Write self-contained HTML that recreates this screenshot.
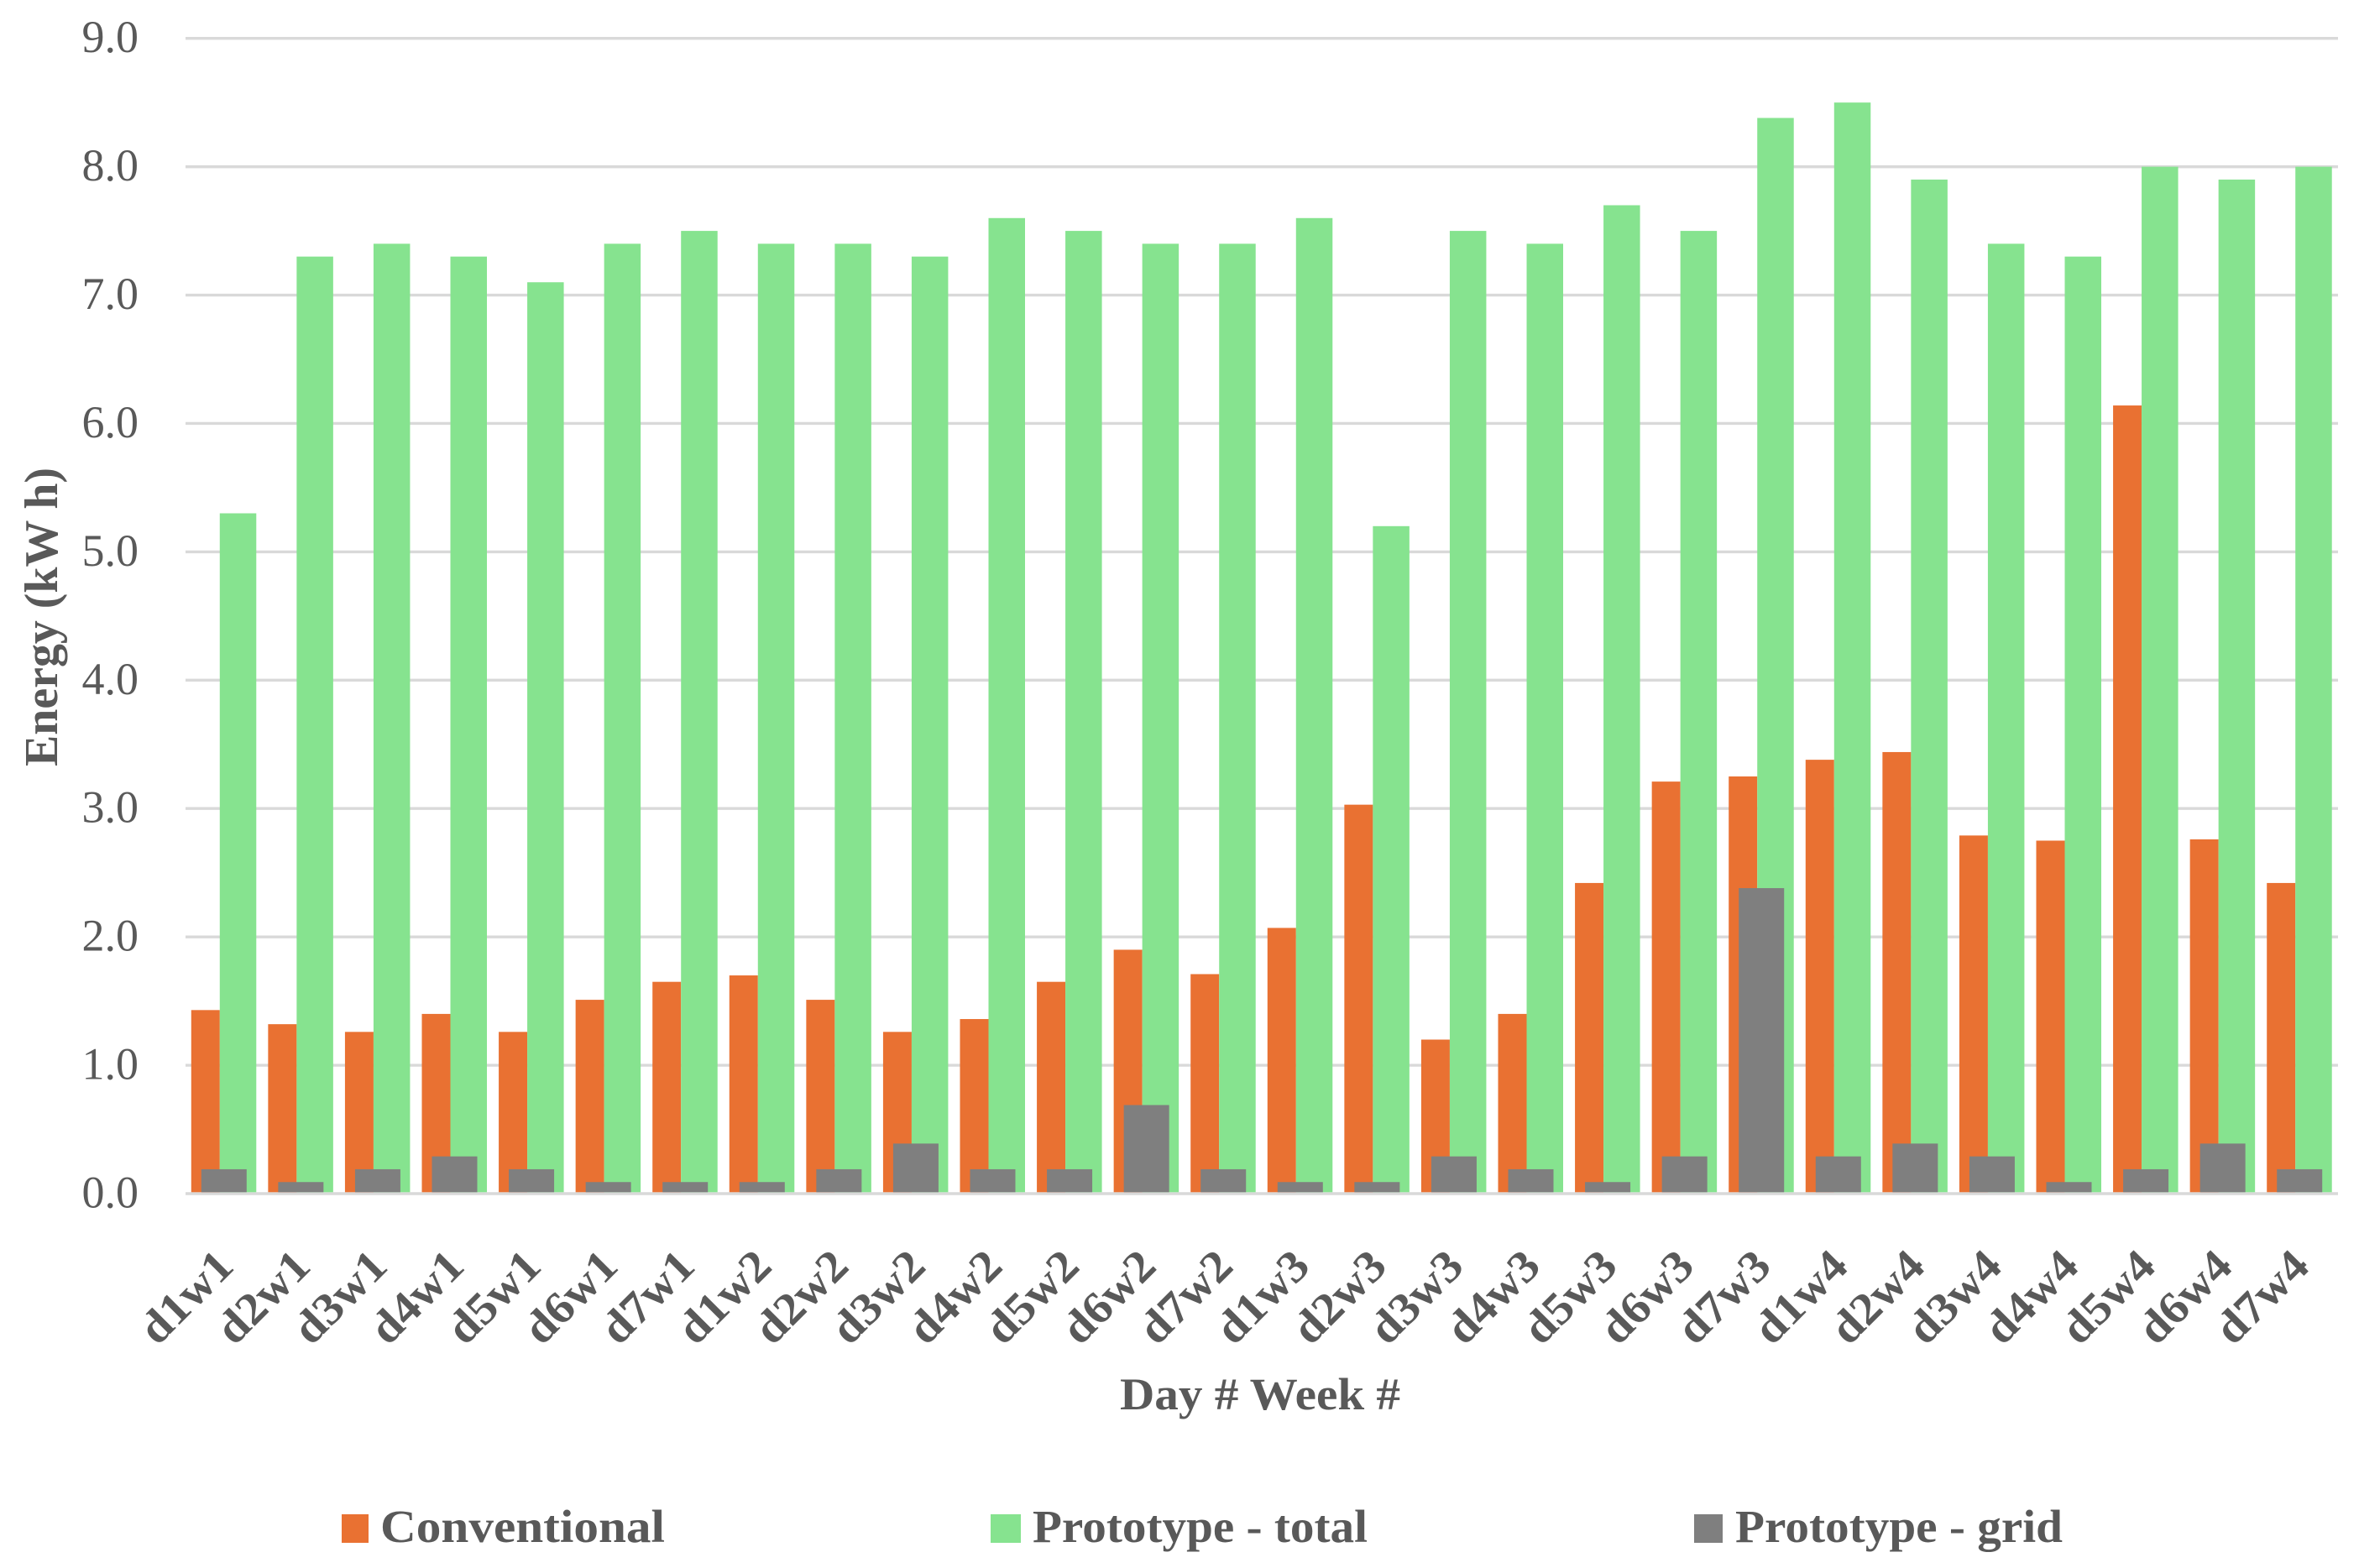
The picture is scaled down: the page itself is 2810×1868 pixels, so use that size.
<!DOCTYPE html>
<html lang="en">
<head>
<meta charset="utf-8">
<title>Energy per day: conventional vs prototype</title>
<style>
html,body{margin:0;padding:0;background:#fff;width:2810px;height:1868px;overflow:hidden}
svg{display:block}
text{font-family:"Liberation Serif",serif;fill:#595959}
.b{font-weight:bold}
</style>
</head>
<body>
<svg id="chart" width="2810" height="1868" viewBox="0 0 2810 1868" xmlns="http://www.w3.org/2000/svg">
<g id="grid"></g>
<g id="ylabels"></g>
<g id="bars"></g>
<g id="xlabels"></g>
<text class="b" transform="translate(68,913) rotate(-90)" font-size="56" textLength="356" lengthAdjust="spacingAndGlyphs">Energy (kW h)</text>
<text class="b" x="1334" y="1679" font-size="54" textLength="334" lengthAdjust="spacingAndGlyphs">Day # Week #</text>
<g>
<rect x="407" y="1804" width="32" height="34" fill="#E97132"/>
<text class="b" x="453" y="1837" font-size="55" textLength="339" lengthAdjust="spacingAndGlyphs">Conventional</text>
<rect x="1180" y="1804" width="36" height="34" fill="#86E38F"/>
<text class="b" x="1230" y="1837" font-size="55" textLength="399" lengthAdjust="spacingAndGlyphs">Prototype - total</text>
<rect x="2018" y="1804" width="34" height="34" fill="#7F7F7F"/>
<text class="b" x="2067" y="1837" font-size="55" textLength="390" lengthAdjust="spacingAndGlyphs">Prototype - grid</text>
</g>
</svg>
<script>
const categories = ["d1w1","d2w1","d3w1","d4w1","d5w1","d6w1","d7w1","d1w2","d2w2","d3w2","d4w2","d5w2","d6w2","d7w2","d1w3","d2w3","d3w3","d4w3","d5w3","d6w3","d7w3","d1w4","d2w4","d3w4","d4w4","d5w4","d6w4","d7w4"];
const conventional = [1.43,1.32,1.26,1.40,1.26,1.51,1.65,1.70,1.51,1.26,1.36,1.65,1.90,1.71,2.07,3.03,1.20,1.40,2.42,3.21,3.25,3.38,3.44,2.79,2.75,6.14,2.76,2.42];
const prototypeTotal = [5.3,7.3,7.4,7.3,7.1,7.4,7.5,7.4,7.4,7.3,7.6,7.5,7.4,7.4,7.6,5.2,7.5,7.4,7.7,7.5,8.38,8.5,7.9,7.4,7.3,8.0,7.9,8.0];
const prototypeGrid = [0.19,0.09,0.19,0.29,0.19,0.09,0.09,0.09,0.19,0.39,0.19,0.19,0.69,0.19,0.09,0.09,0.29,0.19,0.09,0.29,2.38,0.29,0.39,0.29,0.09,0.19,0.39,0.19];
const yTickValues = [0,1,2,3,4,5,6,7,8,9];

const NS = "http://www.w3.org/2000/svg";
const plotLeft = 221, plotRight = 2785, plotBottom = 1422, plotTop = 45.7, yMax = 9;
const band = (plotRight - plotLeft) / categories.length;
function xCenter(i){ return plotLeft + (i + 0.5) * band; }
function yPos(v){ return plotBottom - (v / yMax) * (plotBottom - plotTop); }
function make(tag, attrs, parent){
  const el = document.createElementNS(NS, tag);
  for (const k in attrs) el.setAttribute(k, attrs[k]);
  parent.appendChild(el);
  return el;
}
const gridG = document.getElementById("grid");
const yG = document.getElementById("ylabels");
const barsG = document.getElementById("bars");
const xG = document.getElementById("xlabels");

yTickValues.forEach(function(v){
  const y = yPos(v);
  const line = make("line", {x1: plotLeft, x2: plotRight, y1: y, y2: y, stroke: "#D9D9D9", "stroke-width": 3.4}, gridG);
  
  
  const t = make("text", {x: 165, y: y + 16.5, "text-anchor": "end", "font-size": 54, fill: "#666666"}, yG);
  
  
  t.textContent = v.toFixed(1);
});

function drawBar(value, x0, x1, fill){
  const top = yPos(value);
  const r = make("rect", {x: x0, y: top, width: x1 - x0, height: plotBottom - 1.7 - top, fill: fill}, barsG);
  return r;
}
categories.forEach(function(c, i){
  const cx = xCenter(i);
  const a = drawBar(conventional[i], cx - 39, cx - 5, "#E97132");
  
  
  const b = drawBar(prototypeTotal[i], cx - 5, cx + 38.5, "#86E38F");
  
  
  const g = drawBar(prototypeGrid[i], cx - 27, cx + 27, "#7F7F7F");
  
  
  const lx = cx + 14, ly = 1511;
  const t = make("text", {"text-anchor": "end", "font-size": 54, "font-weight": "bold", textLength: 132, lengthAdjust: "spacingAndGlyphs", transform: "translate(" + lx + "," + ly + ") rotate(-45)"}, xG);
  
  
  t.textContent = c;
});
</script>
</body>
</html>
